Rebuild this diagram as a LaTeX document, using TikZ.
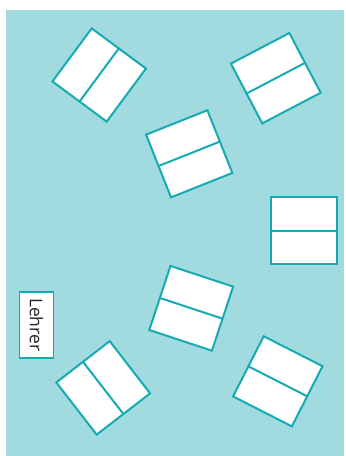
\documentclass[tikz,border=0pt]{standalone}
\usepackage{fontspec}
\setmainfont{Open Sans}
\definecolor{bgteal}{HTML}{A1DADF}
\definecolor{lineteal}{HTML}{16ABB3}
\definecolor{txtgray}{HTML}{262626}
\begin{document}
\begin{tikzpicture}[x=1pt,y=-1pt,
  desk/.style={draw=lineteal, fill=white, line width=2pt, minimum width=66pt, minimum height=67.5pt, inner sep=0pt, outer sep=0pt},
  divider/.style={draw=lineteal, line width=2pt},
  namebox/.style={draw=lineteal, fill=white, line width=1.6pt, minimum width=34pt, minimum height=66pt, inner sep=0pt},
  nametext/.style={text=txtgray, font=\fontsize{17.5pt}{20pt}\selectfont, rotate=-90, inner sep=0pt}]
\useasboundingbox (0,0) rectangle (346,456);
\fill[bgteal] (6,10) rectangle (344,456);
% desks: divider runs west-east in each node's own frame
\node[desk, rotate=53.5] (d1) at (99.2,75) {};
\draw[divider] (d1.west) -- (d1.east);
\node[desk, rotate=27.7] (d2) at (275.8,78.2) {};
\draw[divider] (d2.west) -- (d2.east);
\node[desk, rotate=21.7] (d3) at (189.2,153.8) {};
\draw[divider] (d3.west) -- (d3.east);
\node[desk, rotate=0] (d4) at (303.8,230.5) {};
\draw[divider] (d4.west) -- (d4.east);
\node[desk, rotate=-18.3] (d5) at (191.2,308.3) {};
\draw[divider] (d5.west) -- (d5.east);
\node[desk, rotate=-52.3] (d6) at (103.2,387.9) {};
\draw[divider] (d6.west) -- (d6.east);
\node[desk, rotate=-27] (d7) at (277.8,381.3) {};
\draw[divider] (d7.west) -- (d7.east);
% teacher
\node[namebox] (lehrerbox) at (36.5,324.7) {};
\node[nametext] (lehrer) at (lehrerbox.center) {Lehrer};
\end{tikzpicture}
\end{document}
